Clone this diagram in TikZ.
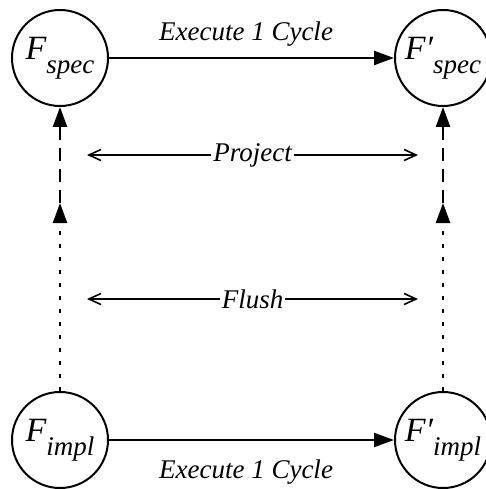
\documentclass[tikz,border=0pt]{standalone}
\usepackage{fontspec}
\setmainfont{Liberation Serif}
\usetikzlibrary{arrows.meta}
\newcommand\fnode[2]{{\fontsize{34}{34}\selectfont\itshape F#1}\raisebox{-14pt}{\fontsize{27}{27}\selectfont\itshape #2}}
\tikzset{
  state/.style={circle,draw,line width=2pt,minimum size=96pt,inner sep=0pt},
  lbl/.style={font=\fontsize{27}{27}\selectfont\itshape,inner sep=2pt},
  exec/.style={line width=2.2pt,-{Triangle[length=20pt,width=14pt]}},
  refine/.style={line width=2.4pt,-{Triangle[length=20pt,width=14pt]}},
  relate/.style={line width=1.6pt,{Straight Barb[length=12pt,width=11pt]}-{Straight Barb[length=12pt,width=11pt]}}
}
\begin{document}
\begin{tikzpicture}[x=1pt,y=1pt,yscale=-1]
\useasboundingbox (0,0) rectangle (486,489);
\node[state] (A) at (60,58) {\fnode{}{spec}};
\node[state] (B) at (443,58) {\fnode{′}{spec}};
\node[state] (C) at (60,440) {\fnode{}{impl}};
\node[state] (D) at (443,440) {\fnode{′}{impl}};
\coordinate (mL) at (60,203);
\coordinate (mR) at (443,203);
\coordinate (p1) at (87,155);
\coordinate (p2) at (418,155);
\coordinate (f1) at (87,299);
\coordinate (f2) at (418,299);
\draw[exec] (A) -- (B);
\node[lbl] (t1) at (246,34) {Execute 1 Cycle};
\draw[exec] (C) -- (D);
\node[lbl] (t2) at (246,472) {Execute 1 Cycle};
\draw[refine,dash pattern=on 13pt off 8pt] (mL) -- (A);
\draw[refine,dash pattern=on 13pt off 8pt] (mR) -- (B);
\draw[refine,dash pattern=on 4.5pt off 8.5pt] (C) -- (mL);
\draw[refine,dash pattern=on 4.5pt off 8.5pt] (D) -- (mR);
\draw[relate] (p1) -- node[lbl,fill=white] (pj) {Project} (p2);
\draw[relate] (f1) -- node[lbl,fill=white] (fl) {Flush} (f2);
\end{tikzpicture}
\end{document}
